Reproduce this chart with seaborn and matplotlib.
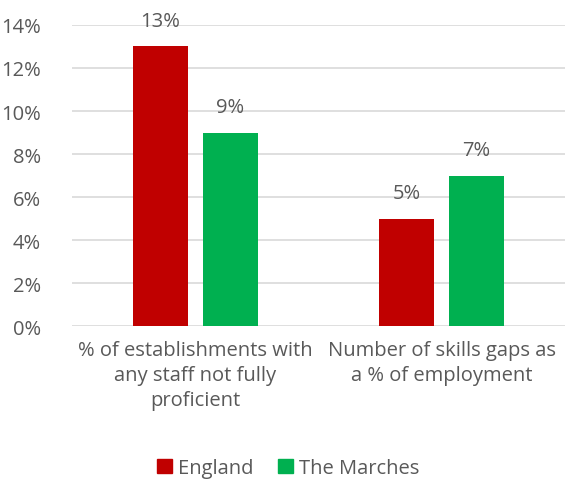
import matplotlib
matplotlib.use("Agg")
import matplotlib.pyplot as plt
import seaborn as sns
import pandas as pd
from matplotlib.ticker import FuncFormatter

categories = ["% of establishments with\nany staff not fully\nproficient",
              "Number of skills gaps as\na % of employment"]
series = ["England", "The Marches"]
england = [13, 5]
marches = [9, 7]
colors = ["#C00000", "#00B050"]

df = pd.DataFrame({
    "category": categories * 2,
    "series": [series[0]] * 2 + [series[1]] * 2,
    "value": england + marches,
})

sns.set_style("white")
plt.rcParams["font.family"] = ["Open Sans", "DejaVu Sans"]
txt = "#595959"
fs = 14.5

fig = plt.figure(figsize=(5.65, 4.81), dpi=100)
ax = fig.add_axes([0.127, 0.320, 0.873, 0.626])
sns.barplot(data=df, x="category", y="value", hue="series", palette=colors,
            width=0.567, gap=0.214, saturation=1, linewidth=0, ax=ax, zorder=3)

ax.set_ylim(0, 14)
ax.set_yticks(range(0, 15, 2))
ax.yaxis.set_major_formatter(FuncFormatter(lambda v, p: f"{int(v)}%"))
ax.grid(axis="y", color="#D9D9D9", linewidth=1.2, zorder=0)
ax.set_axisbelow(True)
for s in ax.spines.values():
    s.set_visible(False)
ax.tick_params(axis="both", length=0, labelsize=fs, colors=txt)
ax.tick_params(axis="x", pad=10)
ax.tick_params(axis="y", pad=22)
for lab in ax.get_xticklabels():
    lab.set_linespacing(1.35)
ax.set_xlabel("")
ax.set_ylabel("")
ax.set_xlim(-0.5, 1.5)

for c in ax.containers:
    ax.bar_label(c, labels=[f"{int(v)}%" for v in c.datavalues], padding=11,
                 fontsize=fs, color=txt)

ax.legend_.remove()
handles = [plt.Rectangle((0, 0), 1, 1, color=c) for c in colors]
fig.legend(handles, series, loc="center", bbox_to_anchor=(0.51, 0.025),
           ncol=2, frameon=False, fontsize=fs, labelcolor=txt,
           handlelength=0.75, handleheight=0.75, handletextpad=0.3,
           columnspacing=1.2)

fig.savefig("out.png", dpi=100)
